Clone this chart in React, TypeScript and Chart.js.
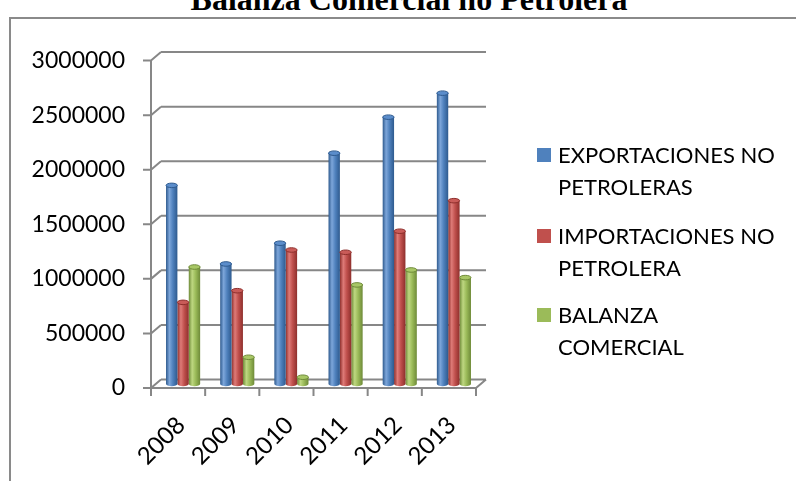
import React, { useEffect, useRef } from 'react';
import { Chart, registerables } from 'chart.js';
Chart.register(...registerables);

const TITLE = 'Balanza Comercial no Petrolera';
const years = ['2008', '2009', '2010', '2011', '2012', '2013'];
const exportaciones = [1820000, 1100000, 1290000, 2115000, 2445000, 2665000];
const importaciones = [748000, 855000, 1228000, 1207000, 1400000, 1680000];
const balanza = [1072000, 245000, 62000, 908000, 1045000, 975000];
const seriesLabels = ['EXPORTACIONES NO PETROLERAS', 'IMPORTACIONES NO PETROLERA', 'BALANZA COMERCIAL'];
const legendLines = [['EXPORTACIONES NO', 'PETROLERAS'], ['IMPORTACIONES NO', 'PETROLERA'], ['BALANZA', 'COMERCIAL']];
const yMin = 0;
const yMax = 3000000;
const yStep = 500000;

const baseColors = ['#4F81BD', '#C0504D', '#9BBB59'];
const darkColors = ['#2E5A8E', '#8E2F2C', '#6E8A38'];
const lightColors = ['#7DA6DA', '#DE7B78', '#BED781'];
const topColors = ['#5B8DCB', '#C95B58', '#A8C766'];

const CAT_PCT = 0.63;
const GRID = '#878787';
const FONT = 'Lato';

function barLeft(chart: any, i: number, d: number) {
  const area = chart.chartArea;
  const xs = chart.scales.x;
  const cat = (area.right - area.left) / years.length;
  const groupW = cat * CAT_PCT;
  const bw = groupW / 3;
  return { left: xs.getPixelForValue(i) - groupW / 2 + d * bw, bw };
}

const decor = {
  id: 'decor3d',
  beforeDatasetsDraw(chart: any) {
    const ctx = chart.ctx;
    const ys = chart.scales.y;
    const { left: L, right: R } = chart.chartArea;
    const fx = -5, bx = 5, fy = 4, by = -4.5;
    ctx.save();
    ctx.strokeStyle = GRID;
    ctx.lineWidth = 2;
    ctx.lineCap = 'butt';
    const y0 = ys.getPixelForValue(0);
    const yTop = ys.getPixelForValue(yMax);
    ctx.beginPath();
    for (let v = yMin; v <= yMax; v += yStep) {
      const yy = ys.getPixelForValue(v);
      ctx.moveTo(L + bx, yy + by);
      ctx.lineTo(R + bx, yy + by);
      ctx.moveTo(L + fx, yy + fy);
      ctx.lineTo(L + bx, yy + by);
      ctx.moveTo(L + fx - 8, yy + fy);
      ctx.lineTo(L + fx, yy + fy);
    }
    ctx.moveTo(L + fx, yTop + fy);
    ctx.lineTo(L + fx, y0 + fy + 1);
    ctx.moveTo(L + fx, y0 + fy);
    ctx.lineTo(R + fx, y0 + fy);
    ctx.lineTo(R + bx, y0 + by);
    const cat = (R - L) / years.length;
    for (let i = 0; i <= years.length; i++) {
      const xx = L + fx + i * cat;
      ctx.moveTo(xx, y0 + fy);
      ctx.lineTo(xx, y0 + fy + 8);
    }
    ctx.stroke();
    ctx.restore();
  },
  afterDatasetsDraw(chart: any) {
    const ctx = chart.ctx;
    ctx.save();
    chart.data.datasets.forEach((ds: any, d: number) => {
      const meta = chart.getDatasetMeta(d);
      meta.data.forEach((bar: any) => {
        const { x, y, base, width } = bar.getProps(['x', 'y', 'base', 'width'], true);
        const rx = width / 2;
        const ry = Math.max(2, width * 0.2);
        const g = ctx.createLinearGradient(x - rx, 0, x + rx, 0);
        g.addColorStop(0, darkColors[d]);
        g.addColorStop(0.3, lightColors[d]);
        g.addColorStop(0.6, baseColors[d]);
        g.addColorStop(1, darkColors[d]);
        ctx.fillStyle = g;
        ctx.beginPath();
        ctx.ellipse(x, base, rx, ry, 0, 0, Math.PI);
        ctx.fill();
        ctx.beginPath();
        ctx.ellipse(x, y, rx, ry, 0, 0, Math.PI * 2);
        ctx.fillStyle = topColors[d];
        ctx.fill();
        ctx.lineWidth = 1;
        ctx.strokeStyle = darkColors[d];
        ctx.stroke();
      });
    });
    ctx.restore();
  },
  afterDraw(chart: any) {
    const ctx = chart.ctx;
    ctx.save();
    ctx.font = `22px ${FONT}`;
    ctx.textBaseline = 'alphabetic';
    ctx.textAlign = 'left';
    const firstCenters = [155, 236, 315];
    legendLines.forEach((lines, d) => {
      const c = firstCenters[d];
      ctx.fillStyle = baseColors[d];
      ctx.fillRect(537, c - 7, 14, 14);
      ctx.fillStyle = '#000';
      lines.forEach((t, k) => ctx.fillText(t, 558, c + 8 + k * 32));
    });
    ctx.restore();
  },
};

function makeDataset(label: string, data: number[], d: number) {
  return {
    label,
    data,
    barPercentage: 1,
    categoryPercentage: CAT_PCT,
    borderWidth: 0,
    backgroundColor: (c: any) => {
      if (c.type !== 'data' || !c.chart.chartArea) return baseColors[d];
      const { left, bw } = barLeft(c.chart, c.dataIndex, d);
      const g = c.chart.ctx.createLinearGradient(left, 0, left + bw, 0);
      g.addColorStop(0, darkColors[d]);
      g.addColorStop(0.3, lightColors[d]);
      g.addColorStop(0.6, baseColors[d]);
      g.addColorStop(1, darkColors[d]);
      return g;
    },
  };
}

export default function App() {
  const ref = useRef<HTMLCanvasElement | null>(null);
  useEffect(() => {
    if (!ref.current) return;
    const chart = new Chart(ref.current, {
      type: 'bar',
      data: {
        labels: years,
        datasets: [
          makeDataset(seriesLabels[0], exportaciones, 0),
          makeDataset(seriesLabels[1], importaciones, 1),
          makeDataset(seriesLabels[2], balanza, 2),
        ],
      },
      options: {
        responsive: false,
        animation: false,
        events: [],
        layout: { padding: { left: 0, right: 315, top: 56.6, bottom: 0 } },
        plugins: { legend: { display: false }, tooltip: { enabled: false }, title: { display: false } },
        scales: {
          y: {
            min: yMin,
            max: yMax,
            grid: { display: false, drawTicks: false },
            border: { display: false },
            ticks: {
              stepSize: yStep,
              color: '#000',
              font: { family: FONT, size: 23 },
              padding: 31,
              labelOffset: 4,
              callback: (v: any) => String(v),
            },
            afterFit: (s: any) => { s.width = 156; },
          },
          x: {
            grid: { display: false, drawTicks: false },
            border: { display: false },
            ticks: {
              color: '#000',
              font: { family: FONT, size: 24 },
              autoSkip: false,
              maxRotation: 45,
              minRotation: 45,
              padding: 27,
              labelOffset: -2,
            },
            afterFit: (s: any) => { s.height = 97; },
          },
        },
      },
      plugins: [decor],
    });
    return () => chart.destroy();
  }, []);

  return (
    <div style={{ position: 'fixed', left: 0, top: 0, width: 796, height: 481, overflow: 'hidden', background: '#fff' }}>
      <div
        style={{
          position: 'absolute', left: 0, top: -17, width: 818, textAlign: 'center',
          font: 'bold 32px "Liberation Serif"', lineHeight: '32px', color: '#000', whiteSpace: 'nowrap',
        }}
      >
        {TITLE}
      </div>
      <div style={{ position: 'absolute', left: 9, top: 17, width: 820, height: 520, border: '2px solid #8a8a8a' }} />
      <canvas ref={ref} width={796} height={481} style={{ position: 'absolute', left: 0, top: 0, width: 796, height: 481 }} />
    </div>
  );
}
